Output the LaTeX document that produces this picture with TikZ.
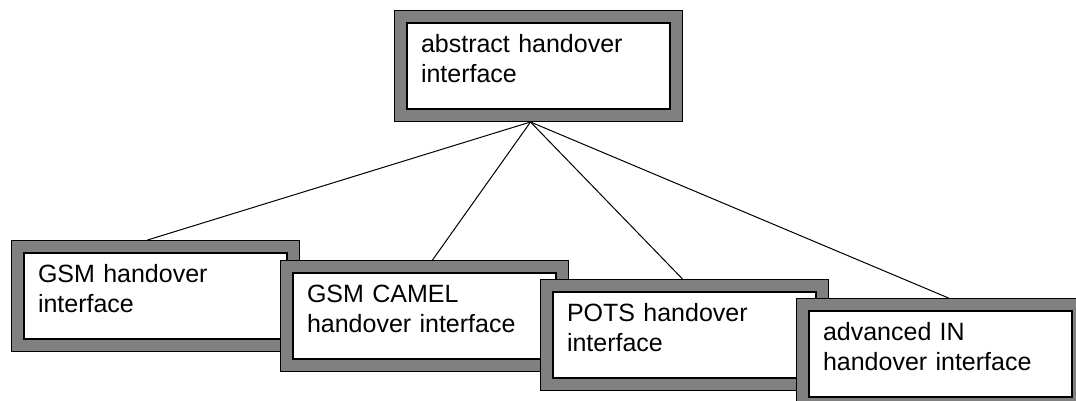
\documentclass[tikz,border=0pt]{standalone}
\usepackage{fontspec}
\setmainfont{Liberation Sans}
\usetikzlibrary{positioning}

\begin{document}
\begin{tikzpicture}[x=1pt, y=-1pt,
    iface/.style={anchor=north west, draw, line width=1.2pt, fill=white,
        preaction={draw=black, line width=26pt},
        preaction={draw=gray, line width=23.6pt},
        text width=235pt, align=left, inner xsep=14pt, inner ysep=10pt,
        text height=19pt, text depth=47pt, outer sep=13pt,
        font=\fontsize{25}{30}\selectfont},
    link/.style={line width=1pt}]
    \useasboundingbox (0, 0) rectangle (1076, 400);
    \clip (0, 0) rectangle (1076, 400);

    \node [iface] (abstract) at (394, 10) {abstract handover\\interface};
    \node [iface] (gsm) at (11, 240) {GSM handover\\interface};
    \node [iface] (camel) at (280, 260) {GSM CAMEL\\handover interface};
    \node [iface] (pots) at (540, 279) {POTS handover\\interface};
    \node [iface] (advin) at (796, 298) {advanced IN\\handover interface};

    \coordinate (apex) at ([xshift=-8pt]abstract.south);
    \draw [link] (apex) -- ([xshift=-8pt]gsm.north);
    \draw [link] (apex) -- ([xshift=8pt]camel.north);
    \draw [link] (apex) -- ([xshift=-2pt]pots.north);
    \draw [link] (apex) -- ([xshift=8pt]advin.north);
\end{tikzpicture}
\end{document}
